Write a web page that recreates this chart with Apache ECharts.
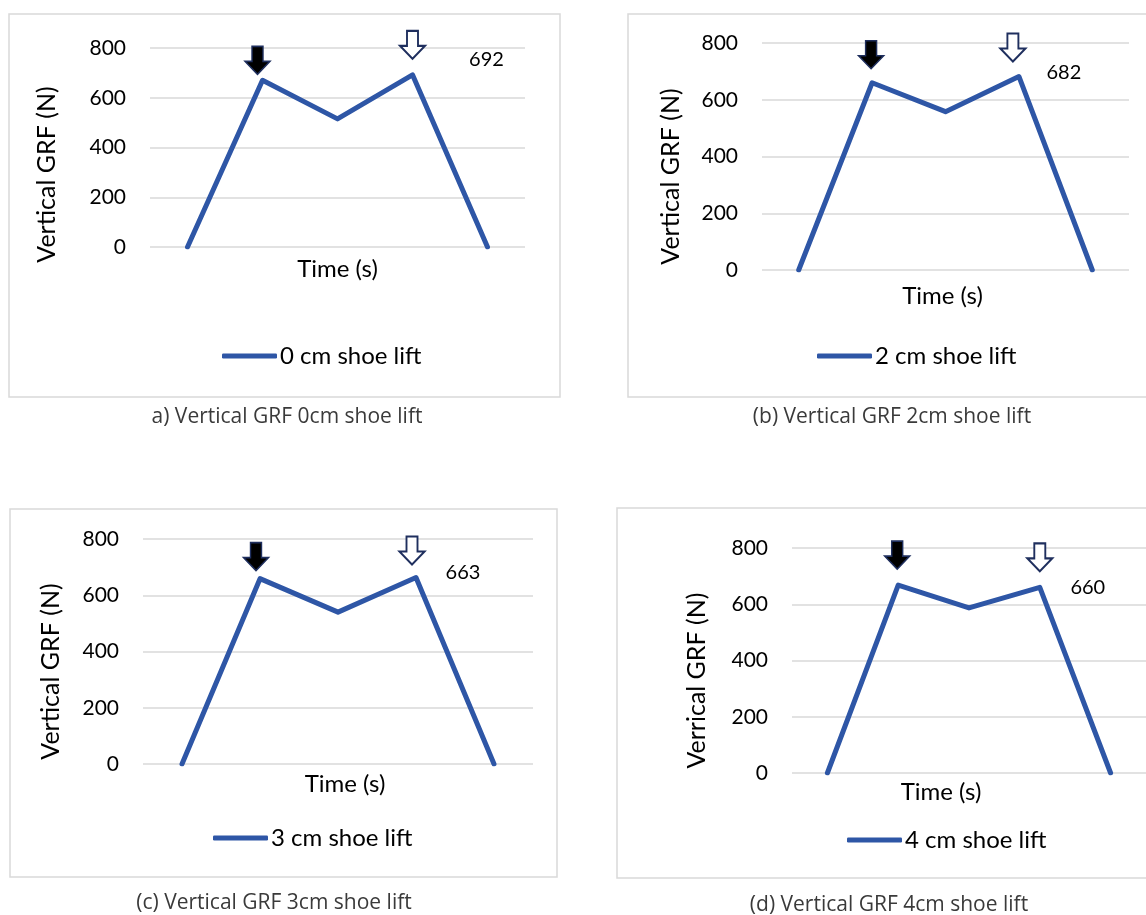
<!DOCTYPE html>
<html>
<head>
<meta charset="utf-8">
<script src="https://cdn.jsdelivr.net/npm/echarts@6/dist/echarts.min.js"></script>
<style>
html,body{margin:0;padding:0;background:#fff;}
#chart{width:1146px;height:915px;}
</style>
</head>
<body>
<div id="chart"></div>
<script>
// ---- data ----
const categories = ['t1', 't2', 't3', 't4', 't5'];
const grf0cm = [0, 670, 515, 692, 0];
const grf2cm = [0, 660, 558, 682, 0];
const grf3cm = [0, 659, 540, 663, 0];
const grf4cm = [0, 668, 587, 660, 0];
const seriesNames = ['0 cm shoe lift', '2 cm shoe lift', '3 cm shoe lift', '4 cm shoe lift'];
const yTitles = ['Vertical GRF (N)', 'Vertical GRF (N)', 'Vertical GRF (N)', 'Verrical GRF (N)'];
const xTitle = 'Time (s)';
const captions = ['a) Vertical GRF 0cm shoe lift', '(b) Vertical GRF 2cm shoe lift', '(c) Vertical GRF 3cm shoe lift', '(d) Vertical GRF 4cm shoe lift'];
const yMin = 0, yMax = 800, yStep = 200;
const labelledIndex = 3;     // index of the value printed as a label
const filledArrowIndex = 1;  // first peak (filled arrow)
const hollowArrowIndex = 3;  // second peak (hollow arrow)
const allValues = [grf0cm, grf2cm, grf3cm, grf4cm];

// ---- layout / style ----
const LINE = '#2E56A6';
const NAVY = '#1F2F5E';
const GRIDC = '#D9D9D9';
const FONT = 'Lato, "Liberation Sans", sans-serif';
const ARROW = 'path://M7,0L18,0L18,15L25,15L12.5,28L0,15L7,15Z';

const panels = [
  {grid:{left:150, top:48, width:375, height:199}, xGap:10, yGap:91, yShift:27, xShift:0,
   legend:{left:222, top:344}, label:[74,-15], fOff:[-5,-20], hOff:[0,-30],
   box:[9,14,551,383], cap:[287,417]},
  {grid:{left:762, top:43, width:367, height:227}, xGap:14, yGap:79, yShift:20, xShift:-3,
   legend:{left:817, top:344}, label:[45,-4], fOff:[-1,-28], hOff:[-6,-29],
   box:[628,14,530,383], cap:[892,417]},
  {grid:{left:143, top:539, width:390, height:225}, xGap:8, yGap:80, yShift:20, xShift:7,
   legend:{left:213, top:826}, label:[47,-5], fOff:[-4,-22], hOff:[-4,-27],
   box:[10,509,547,368], cap:[274,903]},
  {grid:{left:792, top:548, width:365, height:225}, xGap:7, yGap:83, yShift:20, xShift:-28,
   legend:{left:847, top:828}, label:[48,0], fOff:[-1,-30], hOff:[0,-30],
   box:[617,508,540,370], cap:[889,905]}
];

const grids = [], xAxes = [], yAxes = [], series = [], legends = [], graphics = [];

panels.forEach((p, i) => {
  grids.push(Object.assign({containLabel:false}, p.grid));
  xAxes.push({
    type:'category', gridIndex:i, data:categories, boundaryGap:true,
    axisLine:{show:false}, axisTick:{show:false}, axisLabel:{show:false}, splitLine:{show:false},
    name:xTitle, nameLocation:'middle', nameGap:p.xGap,
    nameTextStyle:{fontFamily:FONT, fontSize:24, color:'#000',
      padding: p.xShift < 0 ? [0, -2*p.xShift, 0, 0] : [0, 0, 0, 2*p.xShift]}
  });
  yAxes.push({
    type:'value', gridIndex:i, min:yMin, max:yMax, interval:yStep,
    axisLine:{show:false}, axisTick:{show:false},
    axisLabel:{fontFamily:FONT, fontSize:21, color:'#000', margin:24},
    splitLine:{lineStyle:{color:GRIDC, width:1.5}},
    name:yTitles[i], nameLocation:'middle', nameGap:p.yGap,
    nameTextStyle:{fontFamily:FONT, fontSize:25, color:'#000', padding:[0, 2*p.yShift, 0, 0]}
  });
  const vals = allValues[i];
  series.push({
    type:'line', name:seriesNames[i], xAxisIndex:i, yAxisIndex:i,
    symbol:'circle', symbolSize:1, showSymbol:true,
    itemStyle:{color:LINE},
    lineStyle:{color:LINE, width:5, cap:'round', join:'round'},
    data: vals.map((v, k) => k === labelledIndex ? {
      value:v,
      label:{show:true, position:'inside', offset:p.label, fontFamily:FONT, fontSize:20, color:'#000', formatter:'{c}'}
    } : v),
    markPoint:{
      label:{show:false},
      silent:true,
      data:[
        {coord:[categories[filledArrowIndex], vals[filledArrowIndex]], symbol:ARROW, symbolSize:[25,28],
         symbolOffset:p.fOff, itemStyle:{color:'#000', borderColor:NAVY, borderWidth:1.5}},
        {coord:[categories[hollowArrowIndex], vals[hollowArrowIndex]], symbol:ARROW, symbolSize:[25,28],
         symbolOffset:p.hOff, itemStyle:{color:'#fff', borderColor:NAVY, borderWidth:2}}
      ]
    }
  });
  legends.push({
    data:[{name:seriesNames[i], icon:'roundRect'}], left:p.legend.left, top:p.legend.top,
    padding:0, itemWidth:55, itemHeight:5, itemGap:0,
    textStyle:{fontFamily:FONT, fontSize:24, color:'#000', padding:[0,0,0,-2]},
    selectedMode:false
  });
  graphics.push({
    type:'rect', shape:{x:p.box[0], y:p.box[1], width:p.box[2], height:p.box[3]},
    style:{fill:'none', stroke:GRIDC, lineWidth:1.5}, z:-1, silent:true
  });
  graphics.push({
    type:'text', x:p.cap[0], y:p.cap[1],
    style:{text:captions[i], fontFamily:'"Open Sans", "Noto Sans", sans-serif', fontSize:21, fill:'#3a3a3a',
      align:'center', verticalAlign:'middle'}, silent:true
  });
});

const chart = echarts.init(document.getElementById('chart'), null, {renderer:'canvas'});
chart.setOption({
  animation:false,
  backgroundColor:'#fff',
  grid:grids, xAxis:xAxes, yAxis:yAxes, series:series, legend:legends,
  graphic:graphics
});
</script>
</body>
</html>
